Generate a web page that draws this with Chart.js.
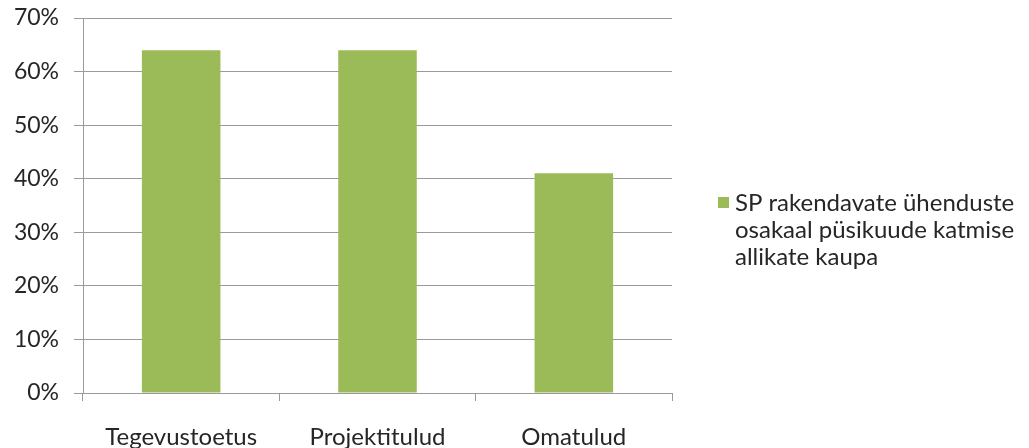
<!DOCTYPE html>
<html>
<head>
<meta charset="utf-8">
<script src="https://cdn.jsdelivr.net/npm/chart.js@4"></script>
<style>
  html, body { margin: 0; padding: 0; background: #fff; }
  #wrap { width: 1029px; height: 448px; position: relative; }
</style>
</head>
<body>
<div id="wrap"><canvas id="chart"></canvas></div>
<script>
const categories = ['Tegevustoetus', 'Projektitulud', 'Omatulud'];
const shares = [64, 64, 41];
const seriesLabel = ['SP rakendavate ühenduste', 'osakaal püsikuude katmise', 'allikate kaupa'];

const FONT = 'Lato, "Liberation Sans", sans-serif';
const GREEN = '#9bbb59';
const GRID = '#9a9a9a';
const TEXT = '#262626';

// legend on the right, with the long series label broken over lines
const sideLegend = {
  id: 'sideLegend',
  afterDraw(chart) {
    const ctx = chart.ctx;
    const x = chart.chartArea.right + 46;
    const y = 203;
    ctx.save();
    ctx.fillStyle = GREEN;
    ctx.fillRect(x, y - 6, 11, 11);
    ctx.fillStyle = TEXT;
    ctx.font = '24px ' + FONT;
    ctx.textBaseline = 'middle';
    seriesLabel.forEach((line, i) => ctx.fillText(line, x + 17, y + i * 27));
    ctx.restore();
  },
};

new Chart(document.getElementById('chart'), {
  type: 'bar',
  data: {
    labels: categories,
    datasets: [{
      label: seriesLabel.join(' '),
      data: shares,
      backgroundColor: GREEN,
      borderWidth: 0,
      barPercentage: 0.4,
      categoryPercentage: 1,
    }],
  },
  options: {
    responsive: true,
    maintainAspectRatio: false,
    animation: false,
    layout: { padding: { top: 18, right: 357, left: 0, bottom: 0 } },
    plugins: {
      legend: { display: false },
      tooltip: { enabled: false },
    },
    scales: {
      x: {
        afterFit: s => { s.height = 55; },
        grid: { drawOnChartArea: false, color: GRID, tickLength: 8 },
        border: { color: GRID },
        ticks: { color: TEXT, font: { family: FONT, size: 24 }, padding: 22 },
      },
      y: {
        min: 0,
        max: 70,
        afterFit: s => {
          s.width = 83;
          // keep the label overhang from pushing the plot down
          s.paddingTop = 0;
          s.paddingBottom = 0;
        },
        grid: { color: GRID, tickLength: 9 },
        border: { color: GRID },
        ticks: {
          stepSize: 10,
          color: TEXT,
          font: { family: FONT, size: 23 },
          padding: 15,
          callback: v => v + '%',
        },
      },
    },
  },
  plugins: [sideLegend],
});
</script>
</body>
</html>
